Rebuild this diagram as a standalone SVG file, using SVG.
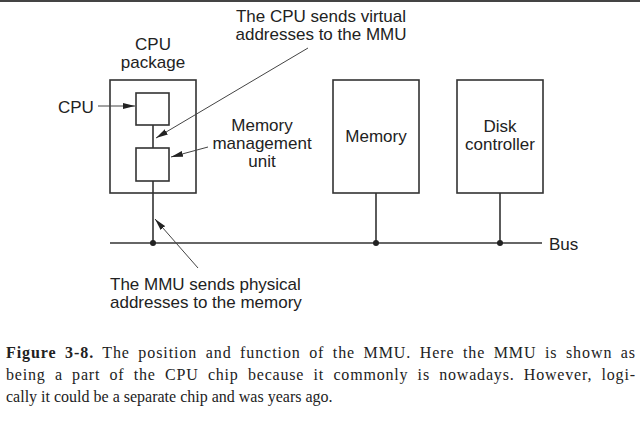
<svg xmlns="http://www.w3.org/2000/svg" width="640" height="422" viewBox="0 0 640 422">
<defs>
<style>
.box{fill:none;stroke:#333;stroke-width:1.6}
.wire{fill:none;stroke:#333;stroke-width:1.6}
.lead{fill:none;stroke:#444;stroke-width:1}
.lbl{font-family:"Liberation Sans",Arial,sans-serif;font-size:17px;fill:#222}
.cap{font-family:"Liberation Serif","Times New Roman",serif;font-size:16px;fill:#222}
.dot{fill:#222}
</style>
<marker id="ah" viewBox="0 0 12 6" refX="12" refY="3" markerWidth="12" markerHeight="6" markerUnits="userSpaceOnUse" orient="auto">
<path d="M0,0 L12,3 L0,6 Z" fill="#222"/>
</marker>
</defs>
<rect width="640" height="422" fill="#fff"/>
<line x1="0" y1="1" x2="640" y2="1" stroke="#444" stroke-width="2"/>

<g id="cpu-package">
<rect class="box" x="110" y="80" width="86" height="113"/>
<text class="lbl" x="153" y="50" text-anchor="middle">CPU</text>
<text class="lbl" x="153" y="68" text-anchor="middle">package</text>
</g>
<g id="cpu">
<rect class="box" x="136" y="93" width="33" height="32"/>
<text class="lbl" x="58" y="113">CPU</text>
</g>
<g id="mmu">
<rect class="box" x="136" y="148" width="33" height="33"/>
<text class="lbl" x="262" y="131" text-anchor="middle">Memory</text>
<text class="lbl" x="262" y="149" text-anchor="middle">management</text>
<text class="lbl" x="262" y="167" text-anchor="middle">unit</text>
</g>
<g id="memory">
<rect class="box" x="333" y="80" width="86" height="113"/>
<text class="lbl" x="376" y="142" text-anchor="middle">Memory</text>
</g>
<g id="disk-controller">
<rect class="box" x="457" y="80" width="86" height="113"/>
<text class="lbl" x="500" y="132" text-anchor="middle">Disk</text>
<text class="lbl" x="500" y="150" text-anchor="middle">controller</text>
</g>
<g id="bus">
<text class="lbl" x="549" y="250">Bus</text>
</g>
<g id="note-virtual">
<text class="lbl" x="321" y="22" text-anchor="middle">The CPU sends virtual</text>
<text class="lbl" x="321" y="40" text-anchor="middle">addresses to the MMU</text>
</g>
<g id="note-physical">
<text class="lbl" x="110" y="290">The MMU sends physical</text>
<text class="lbl" x="110" y="308">addresses to the memory</text>
</g>

<g id="connectors">
<line class="wire" x1="153" y1="125" x2="153" y2="148"/>
<line class="wire" x1="153" y1="181" x2="153" y2="243"/>
<line class="wire" x1="376" y1="193" x2="376" y2="243"/>
<line class="wire" x1="500" y1="193" x2="500" y2="243"/>
<line class="wire" x1="110" y1="243" x2="542" y2="243"/>
<circle class="dot" cx="153" cy="243" r="3"/>
<circle class="dot" cx="376" cy="243" r="3"/>
<circle class="dot" cx="500" cy="243" r="3"/>
<line class="lead" x1="98" y1="106" x2="135" y2="106" marker-end="url(#ah)"/>
<line class="lead" x1="308" y1="48" x2="156" y2="138" marker-end="url(#ah)"/>
<line class="lead" x1="208" y1="147" x2="171" y2="157" marker-end="url(#ah)"/>
<line class="lead" x1="198" y1="268" x2="155" y2="219" marker-end="url(#ah)"/>
</g>

<g id="caption">
<text class="cap" x="6" y="358" word-spacing="3.5" textLength="629" lengthAdjust="spacing"><tspan font-weight="bold">Figure 3-8.</tspan> The position and function of the MMU.  Here the MMU is shown as</text>
<text class="cap" x="6" y="380" word-spacing="4.5" textLength="629" lengthAdjust="spacing">being a part of the CPU chip because it commonly is nowadays. However, logi-</text>
<text class="cap" x="6" y="402">cally it could be a separate chip and was years ago.</text>
</g>
</svg>
